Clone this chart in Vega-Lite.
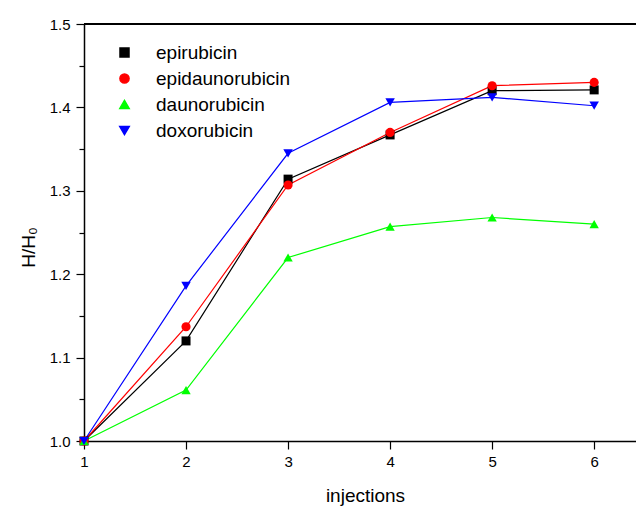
{
  "$schema": "https://vega.github.io/schema/vega-lite/v6.json",
  "autosize": "none",
  "padding": {"left": 84, "top": 24, "right": 0, "bottom": 66},
  "width": 552,
  "height": 417,
  "background": "white",
  "config": {
    "view": {"stroke": null},
    "font": "Liberation Sans",
    "axis": {"labelFont": "Liberation Sans", "titleFont": "Liberation Sans", "labelColor": "black", "titleColor": "black", "domainColor": "black", "tickColor": "black", "grid": false, "titleFontWeight": "normal", "domainWidth": 1.5, "tickWidth": 1.2}
  },
  "data": {
    "values": [
      {"series": "epirubicin", "injections": 1, "ratio": 1.0},
      {"series": "epirubicin", "injections": 2, "ratio": 1.12},
      {"series": "epirubicin", "injections": 3, "ratio": 1.314},
      {"series": "epirubicin", "injections": 4, "ratio": 1.367},
      {"series": "epirubicin", "injections": 5, "ratio": 1.42},
      {"series": "epirubicin", "injections": 6, "ratio": 1.421},
      {"series": "epidaunorubicin", "injections": 1, "ratio": 1.0},
      {"series": "epidaunorubicin", "injections": 2, "ratio": 1.137},
      {"series": "epidaunorubicin", "injections": 3, "ratio": 1.307},
      {"series": "epidaunorubicin", "injections": 4, "ratio": 1.37},
      {"series": "epidaunorubicin", "injections": 5, "ratio": 1.426},
      {"series": "epidaunorubicin", "injections": 6, "ratio": 1.43},
      {"series": "daunorubicin", "injections": 1, "ratio": 1.0},
      {"series": "daunorubicin", "injections": 2, "ratio": 1.061},
      {"series": "daunorubicin", "injections": 3, "ratio": 1.22},
      {"series": "daunorubicin", "injections": 4, "ratio": 1.257},
      {"series": "daunorubicin", "injections": 5, "ratio": 1.268},
      {"series": "daunorubicin", "injections": 6, "ratio": 1.26},
      {"series": "doxorubicin", "injections": 1, "ratio": 1.0},
      {"series": "doxorubicin", "injections": 2, "ratio": 1.186},
      {"series": "doxorubicin", "injections": 3, "ratio": 1.345},
      {"series": "doxorubicin", "injections": 4, "ratio": 1.406},
      {"series": "doxorubicin", "injections": 5, "ratio": 1.412},
      {"series": "doxorubicin", "injections": 6, "ratio": 1.402}
    ]
  },
  "encoding": {
    "x": {
      "field": "injections", "type": "quantitative",
      "scale": {"domain": [1, 6.41], "nice": false, "zero": false},
      "axis": {"values": [1, 2, 3, 4, 5, 6], "format": "d", "labelFontSize": 15, "tickSize": 8, "labelPadding": 5, "title": "injections", "titleFontSize": 19, "titlePadding": 17, "titleX": 281, "labelFlush": false}
    },
    "y": {
      "field": "ratio", "type": "quantitative",
      "scale": {"domain": [1.0, 1.5], "nice": false, "zero": false},
      "axis": {
        "values": [1.0, 1.05, 1.1, 1.15, 1.2, 1.25, 1.3, 1.35, 1.4, 1.45, 1.5],
        "labelExpr": "round(datum.value * 100) % 10 == 0 ? format(datum.value, '.1f') : ''",
        "tickSize": {"condition": {"test": "round(datum.value * 100) % 10 == 0", "value": 8}, "value": 5},
        "labelFontSize": 15, "labelPadding": 6,
        "title": "H/H₀", "titleFontSize": 19, "titlePadding": 11, "titleY": 223
      }
    },
    "color": {"field": "series", "type": "nominal",
      "scale": {"domain": ["epirubicin", "epidaunorubicin", "daunorubicin", "doxorubicin"], "range": ["#000000", "#ff0000", "#00ff00", "#0000ff"]},
      "legend": {
        "title": null, "orient": "none", "legendX": 31, "legendY": 19, "padding": 0,
        "symbolSize": 100, "labelFontSize": 19, "labelOffset": 22, "rowPadding": 6,
        "labelFont": "Liberation Sans", "labelColor": "black"
      }
    }
  },
  "layer": [
    {
      "mark": {"type": "rule", "color": "black", "strokeWidth": 1.5},
      "encoding": {"y": {"datum": 1.5}, "x": null, "color": null}
    },
    {
      "mark": {"type": "line", "strokeWidth": 1.2},
      "encoding": {"detail": {"field": "series"}}
    },
    {
      "mark": {"type": "point", "filled": true, "opacity": 1},
      "encoding": {
        "shape": {"field": "series", "type": "nominal",
          "scale": {"domain": ["epirubicin", "epidaunorubicin", "daunorubicin", "doxorubicin"], "range": ["square", "circle", "triangle-up", "triangle-down"]}},
        "size": {"field": "series", "type": "ordinal", "legend": null,
          "scale": {"domain": ["epirubicin", "epidaunorubicin", "daunorubicin", "doxorubicin"], "range": [81, 90, 125, 125]}}
      }
    }
  ]
}
